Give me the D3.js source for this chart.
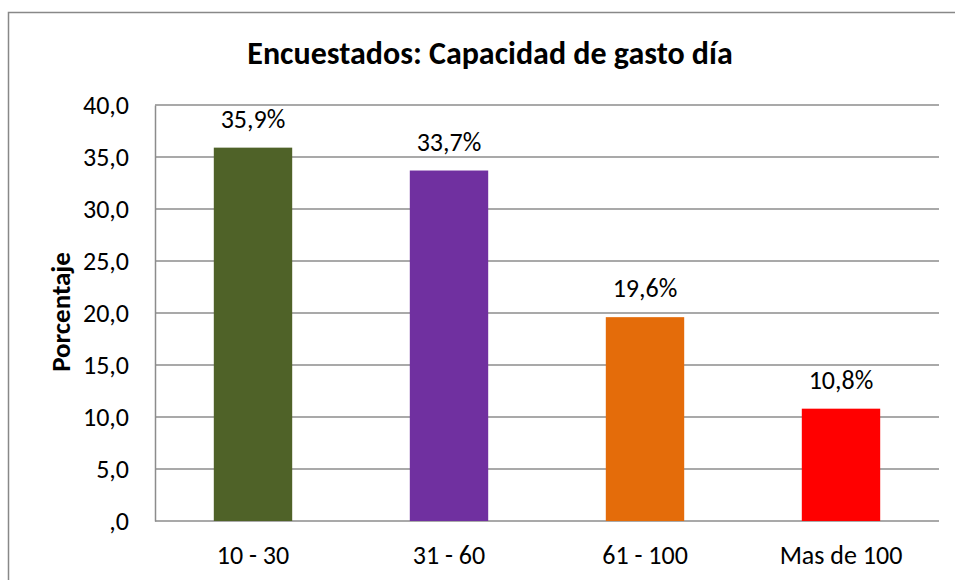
<!DOCTYPE html>
<html>
<head>
<meta charset="utf-8">
<script src="https://cdn.jsdelivr.net/npm/d3@7"></script>
<style>
  body { margin: 0; background: #fff; }
  text { font-family: Carlito, Calibri, Lato, sans-serif; }
</style>
</head>
<body>
<div id="chart"></div>
<script>
// data
const categories = ["10 - 30", "31 - 60", "61 - 100", "Mas de 100"];
const percentages = [35.9, 33.7, 19.6, 10.8];
const barColors = ["#4F6228", "#7030A0", "#E46C0A", "#FF0000"];
const yTicks = [0, 5, 10, 15, 20, 25, 30, 35, 40];

const width = 955, height = 580;
const margin = { top: 105, right: 16, bottom: 59, left: 155 };

const svg = d3.select("#chart")
    .append("svg")
    .attr("width", width)
    .attr("height", height);

// outer frame of the chart (bottom and right run off the picture)
svg.append("rect")
    .attr("x", 8.5).attr("y", 12.5)
    .attr("width", 1000).attr("height", 1000)
    .attr("fill", "none")
    .attr("stroke", "#888")
    .attr("stroke-width", 1.5);

const locale = d3.formatLocale({ decimal: ",", thousands: ".", grouping: [3], currency: ["", ""] });
const fmtTick = v => locale.format(".1f")(v).replace(/^0,/, ",");
const fmtLabel = v => locale.format(".1f")(v) + "%";

const x = d3.scaleBand()
    .domain(categories)
    .range([margin.left, width - margin.right])
    .padding(0);

const y = d3.scaleLinear()
    .domain([0, 40])
    .range([height - margin.bottom, margin.top]);

// gridlines
svg.append("g")
    .selectAll("line")
    .data(yTicks)
    .join("line")
    .attr("x1", margin.left)
    .attr("x2", width - margin.right)
    .attr("y1", d => y(d))
    .attr("y2", d => y(d))
    .attr("stroke", "#8c8c8c")
    .attr("stroke-width", 1.5);

// y axis
const yAxis = svg.append("g")
    .attr("transform", `translate(${margin.left},0)`)
    .call(d3.axisLeft(y).tickValues(yTicks).tickFormat(fmtTick).tickSize(0).tickPadding(26));
yAxis.select(".domain").attr("stroke", "#8c8c8c").attr("stroke-width", 1.5);
yAxis.selectAll("text")
    .style("font-family", "Carlito, Calibri, Lato, sans-serif")
    .style("font-size", "26px")
    .attr("fill", "#000");

// x axis
const xAxis = svg.append("g")
    .attr("transform", `translate(0,${height - margin.bottom})`)
    .call(d3.axisBottom(x).tickSize(0).tickPadding(25));
xAxis.select(".domain").remove();
xAxis.selectAll("text")
    .style("font-family", "Carlito, Calibri, Lato, sans-serif")
    .style("font-size", "26px")
    .attr("fill", "#000");

// bars
const barW = x.bandwidth() * 0.4;
svg.append("g")
    .selectAll("rect")
    .data(percentages)
    .join("rect")
    .attr("x", (d, i) => x(categories[i]) + (x.bandwidth() - barW) / 2)
    .attr("y", d => y(d))
    .attr("width", barW)
    .attr("height", d => y(0) - y(d))
    .attr("fill", (d, i) => barColors[i]);

// value labels
svg.append("g")
    .selectAll("text")
    .data(percentages)
    .join("text")
    .attr("x", (d, i) => x(categories[i]) + x.bandwidth() / 2)
    .attr("y", d => y(d) - 20)
    .attr("text-anchor", "middle")
    .style("font-size", "26px")
    .text(d => fmtLabel(d));

// axis title
svg.append("text")
    .attr("transform", "translate(70,312) rotate(-90)")
    .attr("text-anchor", "middle")
    .style("font-size", "27px")
    .style("font-weight", "bold")
    .text("Porcentaje");

// chart title
svg.append("text")
    .attr("x", 490)
    .attr("y", 64)
    .attr("text-anchor", "middle")
    .style("font-size", "32px")
    .style("font-weight", "bold")
    .text("Encuestados: Capacidad de gasto día");
</script>
</body>
</html>
